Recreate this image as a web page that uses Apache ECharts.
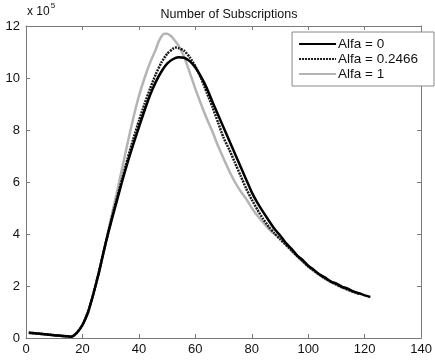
<!DOCTYPE html>
<html>
<head>
<meta charset="utf-8">
<script src="https://cdn.jsdelivr.net/npm/echarts@6/dist/echarts.min.js"></script>
<style>
  html, body { margin: 0; padding: 0; background: #fff; }
  #chart { width: 435px; height: 361px; }
</style>
</head>
<body>
<div id="chart"></div>
<script>
var xTicks = [0, 20, 40, 60, 80, 100, 120, 140];
var yTicks = [0, 2, 4, 6, 8, 10, 12];
var seriesNames = ['Alfa = 0', 'Alfa = 0.2466', 'Alfa = 1'];

// shared rising part (all three curves overlap here)
var tStart = [1, 5, 10, 16, 18, 20, 22, 24, 26, 28];
var vStart = [0.20, 0.16, 0.11, 0.05, 0.20, 0.50, 1.00, 1.75, 2.60, 3.55];

// Alfa = 0
var t0 = [30, 32, 34, 36, 38, 40, 42, 44, 46, 48, 50, 52, 54, 56, 58, 60, 62, 64, 66, 68, 70,
          72, 74, 76, 78, 80, 82, 84, 86, 88, 90, 92, 94, 96, 98, 100, 102, 104, 106, 108,
          110, 112, 114, 116, 118, 120, 122];
var v0 = [4.40, 5.20, 6.00, 6.75, 7.45, 8.10, 8.75, 9.35, 9.85, 10.25, 10.55, 10.72, 10.80, 10.78,
          10.65, 10.40, 10.05, 9.62, 9.10, 8.60, 8.10, 7.60, 7.10, 6.60, 6.10, 5.60, 5.20, 4.85,
          4.52, 4.20, 3.95, 3.66, 3.44, 3.18, 3.00, 2.78, 2.62, 2.44, 2.32, 2.17, 2.09, 1.97,
          1.90, 1.79, 1.72, 1.64, 1.58];

// Alfa = 0.2466
var t1 = [30, 32, 34, 36, 38, 40, 42, 44, 46, 48, 50, 52, 53, 54, 56, 58, 60, 62, 64, 66, 68, 70,
          72, 74, 76, 78, 80, 82, 84, 86, 88, 90, 94, 100, 106, 112, 118];
var v1 = [4.45, 5.28, 6.10, 6.90, 7.65, 8.35, 9.00, 9.60, 10.15, 10.60, 10.93, 11.12, 11.17, 11.15,
          11.05, 10.80, 10.45, 10.00, 9.45, 8.90, 8.30, 7.70, 7.25, 6.75, 6.25, 5.75, 5.32, 4.93,
          4.58, 4.28, 4.03, 3.80, 3.38, 2.76, 2.29, 1.95, 1.70];

// Alfa = 1
var t2 = [30, 32, 34, 36, 38, 40, 42, 44, 46, 47, 48, 49, 50, 51, 52, 54, 56, 58, 60, 62, 64, 66,
          68, 70, 72, 74, 76, 78, 80, 82, 84, 86, 88, 90, 94, 100, 106, 112, 118];
var v2 = [4.55, 5.50, 6.50, 7.50, 8.45, 9.30, 10.00, 10.60, 11.10, 11.40, 11.60, 11.70, 11.70,
          11.64, 11.54, 11.25, 10.82, 10.22, 9.58, 9.00, 8.45, 7.95, 7.40, 6.90, 6.42, 6.00, 5.65,
          5.35, 5.00, 4.70, 4.45, 4.20, 4.00, 3.85, 3.36, 2.74, 2.27, 1.94, 1.69];

function pairs(ts, vs) {
    var data = [];
    for (var i = 0; i < tStart.length; i++) {
        data.push([tStart[i], vStart[i]]);
    }
    for (var j = 0; j < ts.length; j++) {
        data.push([ts[j], vs[j]]);
    }
    return data;
}

var axisColor = '#7a7a7a';
var labelFont = {color: '#111', fontSize: 13, fontFamily: 'Liberation Sans'};

function frameAxis(pos, isX) {
    return {
        type: 'value',
        position: pos,
        min: isX ? xTicks[0] : yTicks[0],
        max: isX ? xTicks[xTicks.length - 1] : yTicks[yTicks.length - 1],
        interval: isX ? 20 : 2,
        axisLine: {show: true, onZero: false, lineStyle: {color: axisColor, width: 1}},
        axisTick: {show: true, inside: true, length: 4, lineStyle: {color: axisColor}},
        axisLabel: {show: false},
        splitLine: {show: false}
    };
}

var chart = echarts.init(document.getElementById('chart'), null, {renderer: 'canvas'});

var option = {
    backgroundColor: '#fff',
    animation: false,
    title: {
        text: 'Number of Subscriptions',
        left: 224,
        textAlign: 'center',
        top: 3,
        textStyle: {fontSize: 12.5, fontWeight: 'normal', color: '#111', fontFamily: 'Liberation Sans'}
    },
    graphic: [{
        type: 'text',
        left: 27,
        top: 2,
        style: {
            text: '{a|x 10}{s|5}',
            rich: {
                a: {fontSize: 12, fill: '#111', fontFamily: 'Liberation Sans', padding: [6, 0, 0, 0]},
                s: {fontSize: 8, fill: '#111', fontFamily: 'Liberation Sans', padding: [0, 0, 5, 1]}
            }
        }
    }],
    legend: {
        orient: 'vertical',
        right: 1,
        top: 32,
        padding: [5, 16, 5, 6],
        itemGap: 1,
        itemWidth: 37,
        itemHeight: 14,
        backgroundColor: '#fff',
        borderColor: '#888',
        borderWidth: 1,
        borderRadius: 0,
        itemStyle: {opacity: 0},
        textStyle: {fontSize: 13.5, color: '#111', fontFamily: 'Liberation Sans', padding: [0, 0, 0, -3]},
        data: seriesNames
    },
    grid: {left: 26, right: 11, top: 26, bottom: 23, containLabel: false},
    xAxis: [{
        type: 'value',
        min: 0,
        max: 140,
        interval: 20,
        axisLine: {show: true, onZero: false, lineStyle: {color: axisColor, width: 1}},
        axisTick: {show: true, inside: true, length: 4, lineStyle: {color: axisColor}},
        axisLabel: Object.assign({margin: 5, showMinLabel: true, showMaxLabel: true}, labelFont),
        splitLine: {show: false}
    }, frameAxis('top', true)],
    yAxis: [{
        type: 'value',
        min: 0,
        max: 12,
        interval: 2,
        axisLine: {show: true, onZero: false, lineStyle: {color: axisColor, width: 1}},
        axisTick: {show: true, inside: true, length: 4, lineStyle: {color: axisColor}},
        axisLabel: Object.assign({margin: 6}, labelFont),
        splitLine: {show: false}
    }, frameAxis('right', false)],
    series: [
        {
            name: seriesNames[2],
            type: 'line',
            data: pairs(t2, v2),
            symbol: 'none',
            smooth: 0.2,
            z: 2,
            lineStyle: {color: '#b4b4b4', width: 2.5, type: 'solid'},
            itemStyle: {color: '#b4b4b4'}
        },
        {
            name: seriesNames[1],
            type: 'line',
            data: pairs(t1, v1),
            symbol: 'none',
            smooth: 0.2,
            z: 3,
            lineStyle: {color: '#1a1a1a', width: 2.5, type: [2, 1]},
            itemStyle: {color: '#1a1a1a'}
        },
        {
            name: seriesNames[0],
            type: 'line',
            data: pairs(t0, v0),
            symbol: 'none',
            smooth: 0.2,
            z: 4,
            lineStyle: {color: '#000', width: 2.5},
            itemStyle: {color: '#000'}
        }
    ]
};

chart.setOption(option);
</script>
</body>
</html>
